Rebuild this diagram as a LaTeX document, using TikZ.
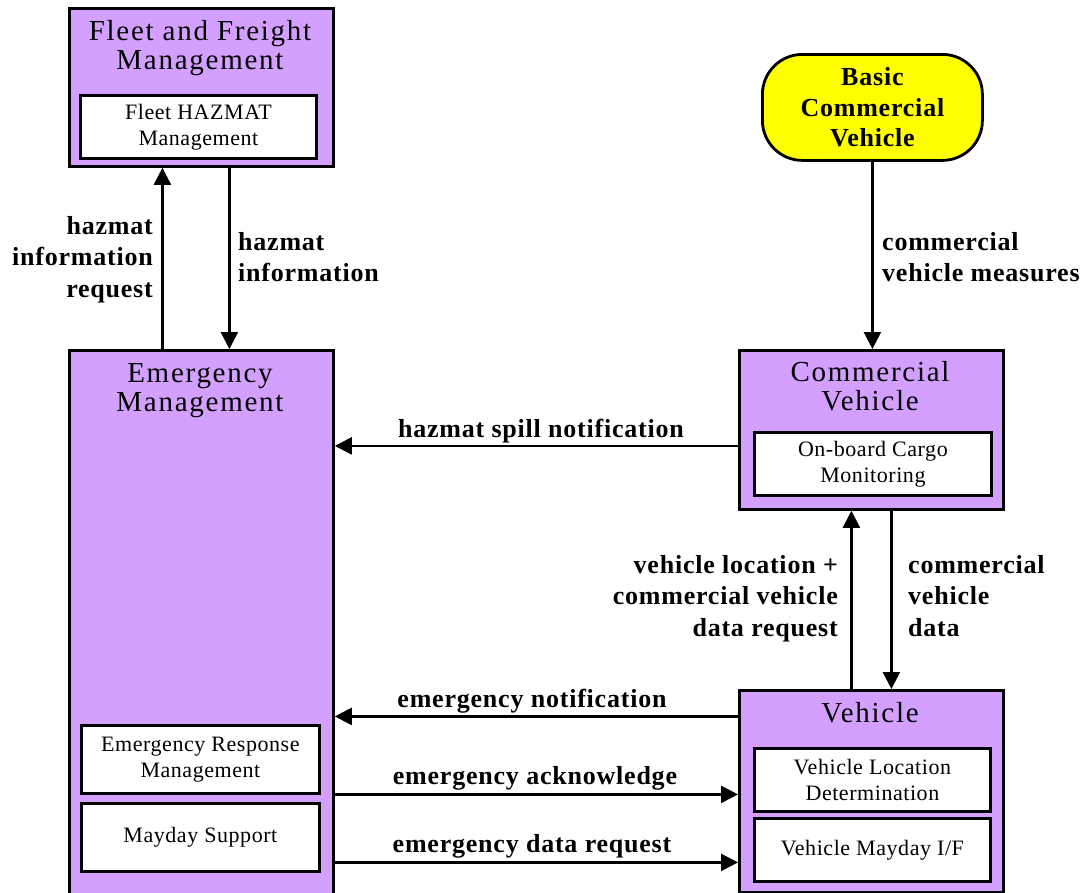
\documentclass[tikz,border=0pt]{standalone}
\usepackage{fontspec}
\setmainfont{Liberation Serif}
\newfontfamily\titlefont[LetterSpace=6]{Liberation Serif}
\newfontfamily\subfont[LetterSpace=2.5]{Liberation Serif}
\newfontfamily\labfont[LetterSpace=3]{Liberation Serif}
\usetikzlibrary{arrows.meta}
\definecolor{boxpurple}{RGB}{212,160,255}
\definecolor{boxyellow}{RGB}{255,255,0}
\begin{document}
\begin{tikzpicture}[x=1pt,y=-1pt,
  bigbox/.style={draw, fill=boxpurple, line width=2.8pt, inner sep=0pt, anchor=north west},
  subbox/.style={draw, fill=white, line width=2.8pt, inner sep=0pt, anchor=north west, align=center,
    font=\subfont\fontsize{22}{26}\selectfont},
  ttl/.style={inner sep=0pt, align=center, anchor=north, font=\titlefont\fontsize{29}{29}\selectfont},
  lab/.style={inner sep=0pt, font=\labfont\bfseries\fontsize{26}{31.5}\selectfont},
  arr/.style={line width=2.4pt, -{Triangle[length=17pt,width=17pt]}}
]
\useasboundingbox (0,0) rectangle (1089,892);
\clip (0,0) rectangle (1089,892);

% boxes
\node[bigbox, minimum width=264pt, minimum height=158pt] (fleet) at (68,7) {};
\node[ttl] (fleett) at (200,20) {Fleet and Freight\\Management};
\node[subbox, minimum width=236pt, minimum height=63pt] (fhm) at (79,94) {Fleet HAZMAT\\Management};

\node[bigbox, minimum width=264pt, minimum height=560pt] (em) at (68,349) {};
\node[ttl] (emt) at (200,363) {Emergency\\Management};
\node[subbox, minimum width=238pt, minimum height=68pt] (erm) at (80,724) {Emergency Response\\Management};
\node[subbox, minimum width=238pt, minimum height=68pt] (mds) at (80,802) {Mayday Support};

\node[bigbox, minimum width=264pt, minimum height=159pt] (cv) at (738,349) {};
\node[ttl] (cvt) at (870,361) {Commercial\\Vehicle};
\node[subbox, minimum width=237pt, minimum height=63pt] (obc) at (753,431) {On-board Cargo\\Monitoring};

\node[bigbox, minimum width=264pt, minimum height=202pt] (veh) at (738,689) {};
\node[ttl] (veht) at (870,702) {Vehicle};
\node[subbox, minimum width=236pt, minimum height=63pt] (vld) at (753,747) {Vehicle Location\\Determination};
\node[subbox, minimum width=236pt, minimum height=63pt] (vmi) at (753,817) {Vehicle Mayday I/F};

\node[draw, fill=boxyellow, line width=2.8pt, rounded corners=40pt, inner sep=0pt,
  minimum width=220pt, minimum height=106pt, anchor=north west, align=center,
  font=\labfont\bfseries\fontsize{26}{30.5}\selectfont] (bcv) at (761,53) {Basic\\Commercial\\Vehicle};

% connector coordinates
\coordinate (fup) at ([xshift=-39pt]em.north);
\coordinate (fdn) at ([xshift=28pt]fleet.south);
\coordinate (hsn) at ([yshift=-16pt]cv.west);
\coordinate (cvup) at ([xshift=-20pt]veh.north);
\coordinate (cvdn) at ([xshift=20pt]cv.south);
\coordinate (enot) at ([yshift=75pt]veh.west);
\coordinate (eack) at ([yshift=-3pt]veh.west);
\coordinate (edat) at ([yshift=-71pt]veh.west);

\draw[arr] (fup) -- (fup |- fleet.south);
\draw[arr] (fdn) -- (fdn |- em.north);
\draw[arr] (bcv.south) -- (bcv.south |- cv.north);
\draw[arr] (hsn) -- (hsn -| em.east);
\draw[arr] (cvup) -- (cvup |- cv.south);
\draw[arr] (cvdn) -- (cvdn |- veh.north);
\draw[arr] (enot) -- (enot -| em.east);
\draw[arr] (eack -| em.east) -- (eack);
\draw[arr] (edat -| em.east) -- (edat);

% labels
\node[lab, align=right, anchor=north east] (l1) at (153,216) {hazmat\\information\\request};
\node[lab, align=left, anchor=north west] (l2) at (238,232) {hazmat\\information};
\node[lab, align=left, anchor=north west] (l3) at (882,232) {commercial\\vehicle measures};
\node[lab, anchor=base] (l4) at (541,437) {hazmat spill notification};
\node[lab, align=right, anchor=north east] (l5) at (838,555) {vehicle location +\\commercial vehicle\\data request};
\node[lab, align=left, anchor=north west] (l6) at (908,555) {commercial\\vehicle\\data};
\node[lab, anchor=base] (l7) at (532,707) {emergency notification};
\node[lab, anchor=base] (l8) at (535,784) {emergency acknowledge};
\node[lab, anchor=base] (l9) at (532,852) {emergency data request};
\end{tikzpicture}
\end{document}
